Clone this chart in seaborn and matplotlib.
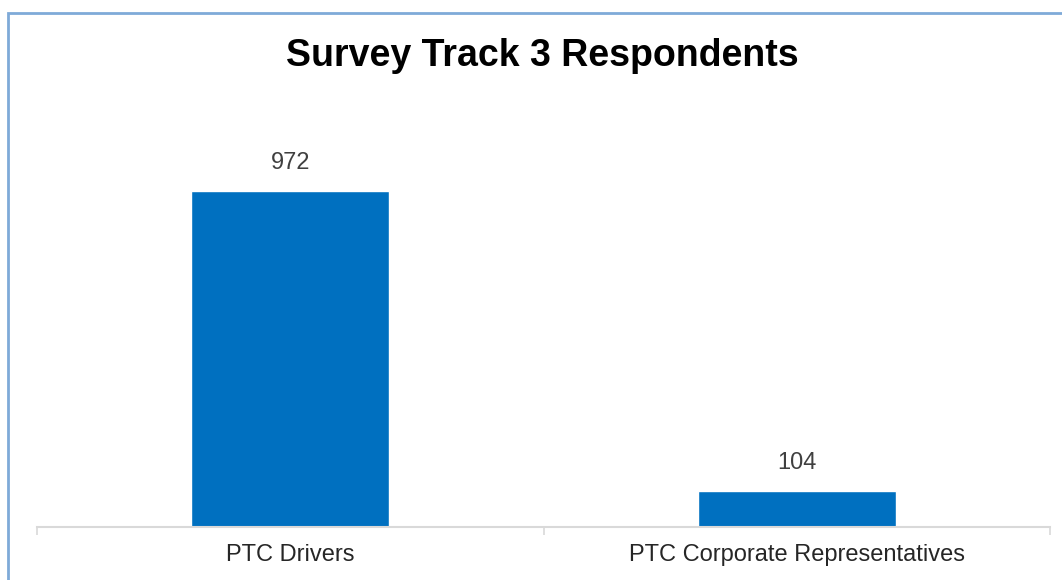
import numpy as np
import pandas as pd
import seaborn as sns
import matplotlib.pyplot as plt
from matplotlib.patches import Rectangle

# data
groups = ['PTC Drivers', 'PTC Corporate Representatives']
respondents = [972, 104]

df = pd.DataFrame({'group': groups, 'n': respondents})

sns.set_theme(style='white')
plt.rcParams['font.family'] = ['Liberation Sans', 'DejaVu Sans']

fig = plt.figure(figsize=(10.62, 5.8), dpi=100)
ax = fig.add_axes([0.0348, 0.0914, 0.954, 0.716])

sns.barplot(data=df, x='group', y='n', order=groups, color='#0070C0',
            saturation=1, width=0.39, ax=ax)

ax.set_xlim(-0.5, 1.5)
ax.set_ylim(0, 1200)
ax.set(xlabel='', ylabel='', yticks=[])

for p, v in zip(ax.patches, respondents):
    ax.annotate(str(v), (p.get_x() + p.get_width() / 2, p.get_height()),
                xytext=(0, 12), textcoords='offset points', ha='center',
                va='bottom', fontsize=17, color='#404040')

# category tick marks at boundaries like Excel
ax.set_xticks([-0.5, 0.5, 1.5], minor=True)
ax.tick_params(axis='x', which='minor', length=6, width=1.2, color='#D9D9D9',
               direction='out', bottom=True)
ax.tick_params(axis='x', which='major', length=0, labelsize=17,
               labelcolor='#262626', pad=12)

for s in ['left', 'right', 'top']:
    ax.spines[s].set_visible(False)
ax.spines['bottom'].set_color('#D9D9D9')
ax.spines['bottom'].set_linewidth(1.5)

fig.text(0.511, 0.903, 'Survey Track 3 Respondents', ha='center', va='center',
         fontsize=27, fontweight='bold', color='black')

# chart frame
fig.patches.append(Rectangle((8 / 1062, -0.2), 1.5, 0.2 + (580 - 13) / 580,
                             transform=fig.transFigure, fill=False,
                             edgecolor='#7FAAD8', linewidth=2))

fig.savefig('out.png', dpi=100)
